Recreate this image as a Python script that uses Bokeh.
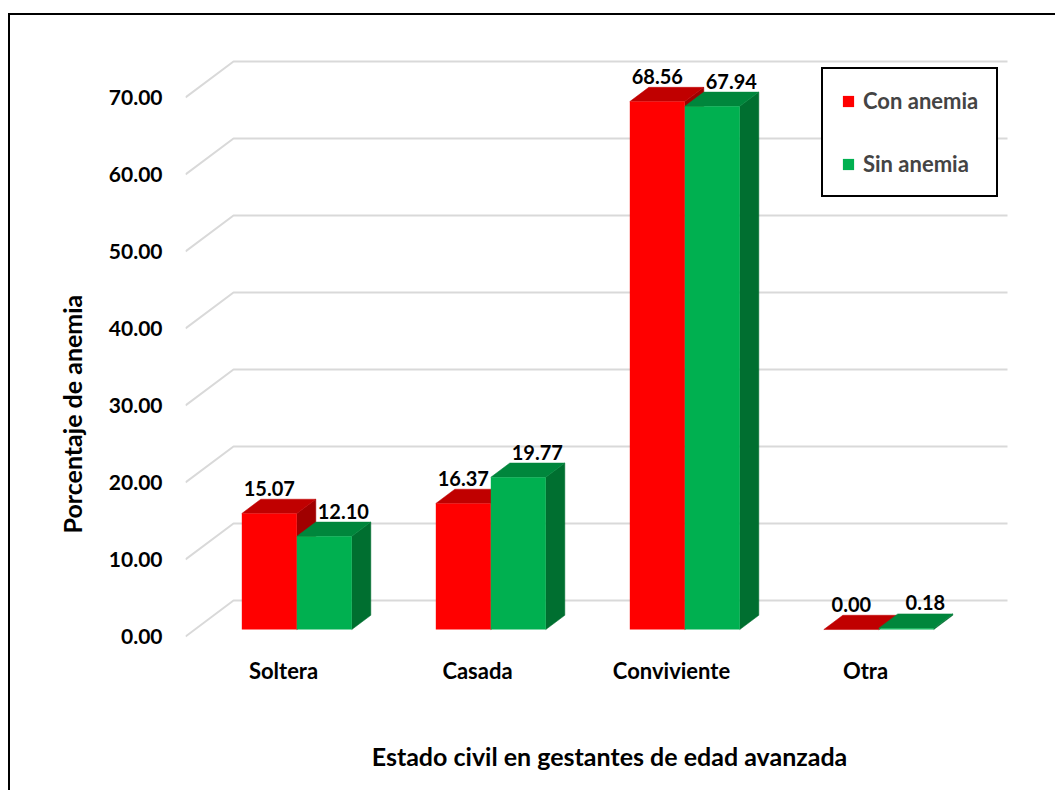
from bokeh.plotting import figure
from bokeh.models import Range1d, FixedTicker, PrintfTickFormatter, Legend, LegendItem, Title, ColumnDataSource
from bokeh.core.properties import value
from bokeh.embed import file_html
from bokeh.resources import INLINE

# ---------------- data ----------------
categories = ["Soltera", "Casada", "Conviviente", "Otra"]
con_anemia = [15.07, 16.37, 68.56, 0.00]
sin_anemia = [12.10, 19.77, 67.94, 0.18]
series_names = ["Con anemia", "Sin anemia"]
y_ticks = [0, 10, 20, 30, 40, 50, 60, 70]

# ---------------- style / geometry ----------------
FONT = "Lato"
FRONT = ["#FF0000", "#00B050"]
TOP = ["#C00000", "#00863C"]
SIDE = ["#A00000", "#006F30"]
GRID = "#D9D9D9"

X0, X1 = -0.5052, 3.866
Y0, Y1 = -1.558, 76.1
DEPTH_X = 0.2474      # floor depth in x units
DEPTH_Y = 4.675       # floor depth in value units
WALL_RIGHT = 3.732
BAR_W = 0.2835
BAR_SHIFT = 0.0206
A = 0.194             # depth fraction of bar front
B = 0.590             # depth fraction of bar back
LABEL_DX = [0, 19]

p = figure(width=1047, height=777, x_range=Range1d(X0, X1), y_range=Range1d(Y0, Y1),
           output_backend="svg", toolbar_location=None,
           min_border_left=175, min_border_right=24, min_border_top=35, min_border_bottom=144)
p.styles = {"border-left": "2px solid black", "border-top": "2px solid black",
            "margin-top": "13px", "margin-left": "8px"}
p.outline_line_color = None
p.xgrid.visible = False
p.ygrid.visible = False
p.background_fill_color = "white"

# gridlines (3D walls)
gxs = [[X0, X0 + DEPTH_X, WALL_RIGHT] for t in y_ticks]
gys = [[t, t + DEPTH_Y, t + DEPTH_Y] for t in y_ticks]
p.multi_line(gxs, gys, line_color=GRID, line_width=2)

front_renderers = []
for s, vals in enumerate([con_anemia, sin_anemia]):
    dbx = (B - A) * DEPTH_X
    dby = (B - A) * DEPTH_Y
    xl = [i + BAR_SHIFT - BAR_W + s * BAR_W + A * DEPTH_X for i in range(len(categories))]
    xr = [x + BAR_W for x in xl]
    yb = [A * DEPTH_Y for _ in vals]
    yt = [v + A * DEPTH_Y for v in vals]
    side_xs = [[r, r + dbx, r + dbx, r] for r in xr]
    side_ys = [[b, b + dby, t + dby, t] for b, t in zip(yb, yt)]
    top_xs = [[l, r, r + dbx, l + dbx] for l, r in zip(xl, xr)]
    top_ys = [[t, t, t + dby, t + dby] for t in yt]
    p.patches(side_xs, side_ys, fill_color=SIDE[s], line_color=SIDE[s], line_width=0.5)
    p.patches(top_xs, top_ys, fill_color=TOP[s], line_color=TOP[s], line_width=0.5)
    fr = p.quad(left=xl, right=xr, bottom=yb, top=yt, fill_color=FRONT[s], line_color=None)
    front_renderers.append(fr)
    src = ColumnDataSource(dict(x=[l + BAR_W / 2 for l in xl],
                                y=[v + B * DEPTH_Y for v in vals],
                                t=["%.2f" % v for v in vals]))
    p.text(x="x", y="y", text="t", source=src, x_offset=LABEL_DX[s], y_offset=-11,
           text_align="center", text_baseline="alphabetic", text_font=value(FONT),
           text_font_style="bold", text_font_size="20px", text_color="black")

# y axis
p.yaxis.ticker = FixedTicker(ticks=y_ticks)
p.yaxis.formatter = PrintfTickFormatter(format="%.2f")
p.yaxis.axis_line_color = None
p.yaxis.major_tick_line_color = None
p.yaxis.minor_tick_line_color = None
p.yaxis.major_tick_out = 0
p.yaxis.major_tick_in = 0
p.yaxis.major_label_standoff = 23
p.yaxis.major_label_text_font = FONT
p.yaxis.major_label_text_font_style = "bold"
p.yaxis.major_label_text_font_size = "21px"
p.yaxis.major_label_text_color = "black"

# x axis
p.xaxis.ticker = FixedTicker(ticks=list(range(len(categories))))
p.xaxis.major_label_overrides = {i: c for i, c in enumerate(categories)}
p.xaxis.axis_line_color = None
p.xaxis.major_tick_line_color = None
p.xaxis.minor_tick_line_color = None
p.xaxis.major_tick_out = 0
p.xaxis.major_tick_in = 0
p.xaxis.major_label_standoff = 8
p.xaxis.major_label_text_font = FONT
p.xaxis.major_label_text_font_style = "bold"
p.xaxis.major_label_text_font_size = "22px"
p.xaxis.major_label_text_color = "black"
p.xaxis.axis_label = "Estado civil en gestantes de edad avanzada"
p.xaxis.axis_label_standoff = 54
p.xaxis.axis_label_text_font = FONT
p.xaxis.axis_label_text_font_style = "bold"
p.xaxis.axis_label_text_font_size = "25px"
p.xaxis.axis_label_text_color = "black"

yt_title = Title(text="Porcentaje de anemia", align="left", offset=115,
                 text_font=FONT, text_font_style="bold", text_font_size="25px",
                 text_color="black", standoff=37)
p.add_layout(yt_title, "left")

legend = Legend(items=[LegendItem(label=series_names[k], renderers=[front_renderers[k]]) for k in range(2)],
                location=(636, 451), border_line_color="black", border_line_width=2, border_line_alpha=1.0,
                padding=18, spacing=36, glyph_width=14, glyph_height=14, label_standoff=8,
                label_text_font=FONT, label_text_font_style="bold", label_text_font_size="22px",
                label_height=22, margin=0, background_fill_color="white", background_fill_alpha=1.0)
p.add_layout(legend)

open("out.html", "w").write(file_html(p, INLINE))
